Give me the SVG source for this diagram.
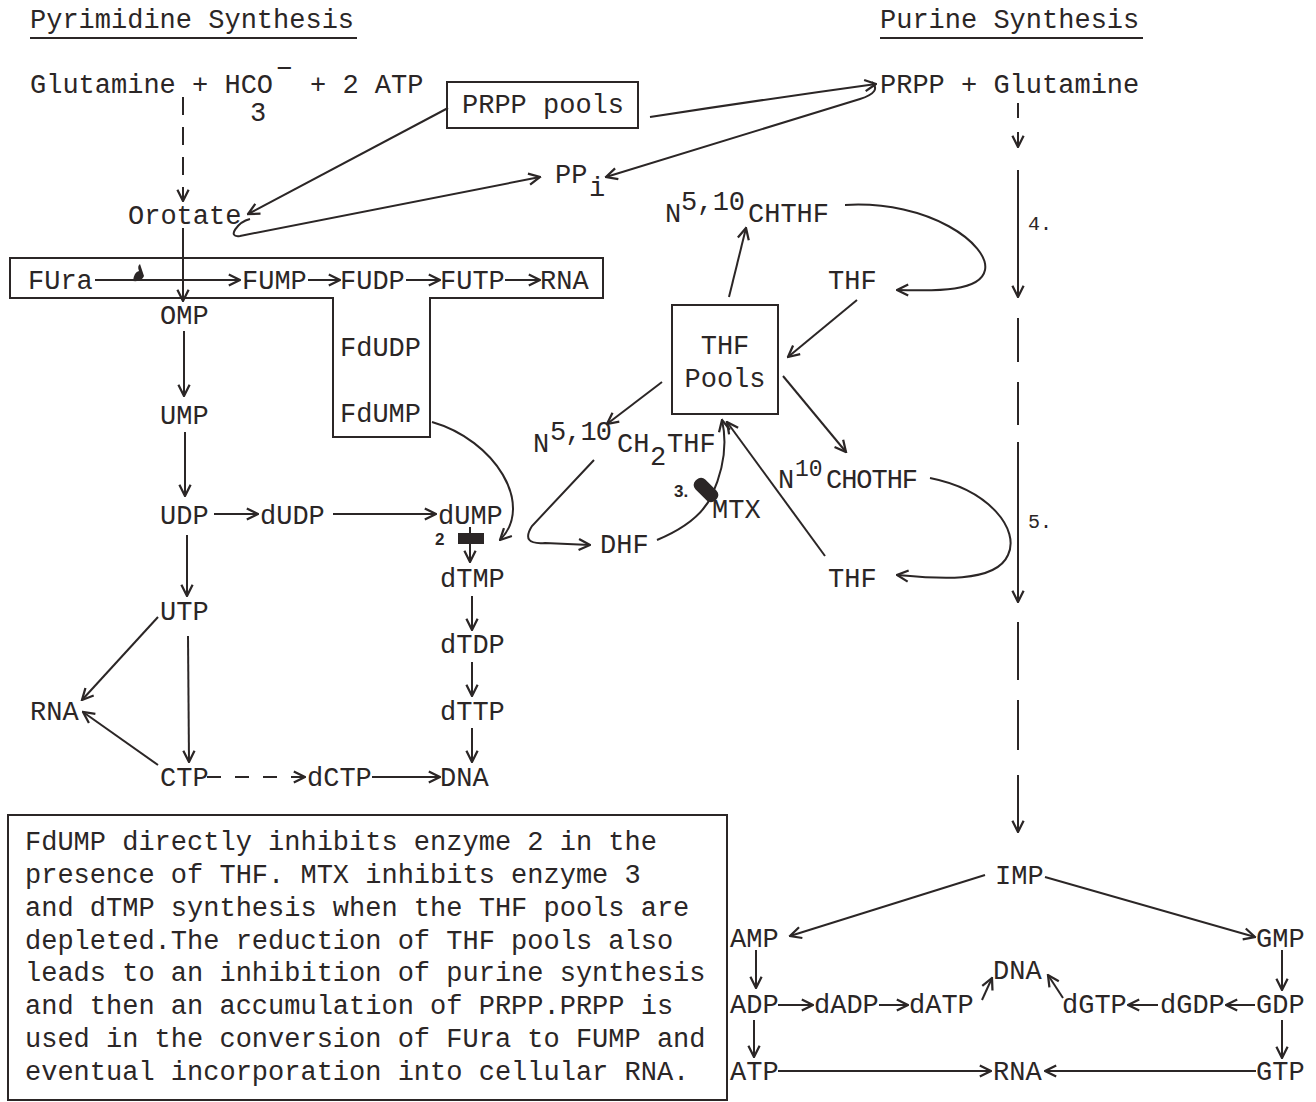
<svg xmlns="http://www.w3.org/2000/svg" width="1316" height="1102" viewBox="0 0 1316 1102">
<defs>
<style>
.t{font-family:"Liberation Mono","DejaVu Sans Mono",monospace;font-size:27px;fill:#2b2626}
.s{font-size:23px}
.h{font-family:"Liberation Sans","DejaVu Sans",sans-serif;font-size:17px;font-weight:bold;fill:#2b2626}
.l{stroke:#2b2626;stroke-width:2;fill:none}
.a{marker-end:url(#ah)}
.d{stroke-dasharray:18 12}
.bx{stroke:#2b2626;stroke-width:2;fill:none}
</style>
<marker id="ah" viewBox="0 0 10 10" refX="9" refY="5" markerWidth="14" markerHeight="14" markerUnits="userSpaceOnUse" orient="auto">
<path d="M1,1 L9,5 L1,9" fill="none" stroke="#2b2626" stroke-width="1.6"/>
</marker>
</defs>
<rect width="1316" height="1102" fill="#ffffff"/>

<g id="titles">
<text class="t" x="30" y="28">Pyrimidine Synthesis</text>
<line class="l" x1="30" y1="38" x2="357" y2="38" stroke-width="1.5"/>
<text class="t" x="880" y="28">Purine Synthesis</text>
<line class="l" x1="880" y1="38" x2="1143" y2="38" stroke-width="1.5"/>
</g>

<g id="node-glutamine">
<text class="t" x="30" y="93">Glutamine + HCO</text>
<text class="t" x="276" y="77">−</text>
<text class="t" x="250" y="121">3</text>
<text class="t" x="310" y="93">+ 2 ATP</text>
</g>
<g id="node-prpp-pools">
<rect class="bx" x="447" y="82" width="191" height="46"/>
<text class="t" x="462" y="113">PRPP pools</text>
</g>
<g id="node-prpp-glutamine"><text class="t" x="880" y="93">PRPP + Glutamine</text></g>
<g id="node-ppi"><text class="t" x="555" y="183">PP</text><text class="t" x="589" y="196">i</text></g>
<g id="node-orotate"><text class="t" x="128" y="224">Orotate</text></g>

<g id="node-fura-box">
<path class="bx" d="M10 258 H603 V298 H430 V437 H333 V298 H10 Z"/>
<text class="t" x="28" y="289">FUra</text>
<text class="t" x="242" y="289">FUMP</text>
<text class="t" x="340" y="289">FUDP</text>
<text class="t" x="440" y="289">FUTP</text>
<text class="t" x="540" y="289">RNA</text>
<text class="t" x="340" y="356">FdUDP</text>
<text class="t" x="340" y="422">FdUMP</text>
<path d="M133 281 Q134 272 139 271 Q137 266 140 264 Q142 270 144 276 Q142 282 133 281 Z" fill="#2b2626"/>
</g>

<g id="node-omp"><text class="t" x="160" y="324">OMP</text></g>
<g id="node-ump"><text class="t" x="160" y="424">UMP</text></g>
<g id="node-udp"><text class="t" x="160" y="524">UDP</text></g>
<g id="node-dudp"><text class="t" x="260" y="524">dUDP</text></g>
<g id="node-dump"><text class="t" x="438" y="524">dUMP</text></g>
<g id="node-utp"><text class="t" x="160" y="620">UTP</text></g>
<g id="node-rna1"><text class="t" x="30" y="720">RNA</text></g>
<g id="node-ctp"><text class="t" x="160" y="786">CTP</text></g>
<g id="node-dctp"><text class="t" x="307" y="786">dCTP</text></g>
<g id="node-dna1"><text class="t" x="440" y="786">DNA</text></g>
<g id="node-dtmp"><text class="t" x="440" y="587">dTMP</text></g>
<g id="node-dtdp"><text class="t" x="440" y="653">dTDP</text></g>
<g id="node-dttp"><text class="t" x="440" y="720">dTTP</text></g>
<g id="enzyme-2">
<rect x="458" y="533" width="26" height="11" fill="#2b2626"/>
<text class="h" x="435" y="545">2</text>
</g>

<g id="node-ch2thf">
<text class="t" x="533" y="452">N</text>
<text class="t" x="550" y="440" textLength="62">5,10</text>
<text class="t" x="617" y="452">CH</text>
<text class="t" x="650" y="465">2</text>
<text class="t" x="667" y="452">THF</text>
</g>
<g id="node-dhf"><text class="t" x="600" y="553">DHF</text></g>
<g id="enzyme-3">
<rect x="692" y="483" width="28" height="14" rx="6" fill="#2b2626" transform="rotate(45 706 490)"/>
<text class="h" x="674" y="497">3.</text>
</g>
<g id="node-mtx"><text class="t" x="712" y="518">MTX</text></g>
<g id="node-thf-pools">
<rect class="bx" x="672" y="305" width="106" height="109"/>
<text class="t" x="725" y="354" text-anchor="middle">THF</text>
<text class="t" x="725" y="387" text-anchor="middle">Pools</text>
</g>
<g id="node-chthf">
<text class="t" x="665" y="222">N</text>
<text class="t" x="681" y="210" textLength="64">5,10</text>
<text class="t" x="748" y="222">CHTHF</text>
</g>
<g id="node-thf1"><text class="t" x="828" y="289">THF</text></g>
<g id="node-chothf">
<text class="t" x="778" y="488">N</text>
<text class="t s" x="795" y="476">10</text>
<text class="t" x="826" y="488" textLength="92">CHOTHF</text>
</g>
<g id="node-thf2"><text class="t" x="828" y="587">THF</text></g>
<g id="labels-enzymes">
<text class="t" x="1028" y="230" style="font-size:20px">4.</text>
<text class="t" x="1028" y="528" style="font-size:20px">5.</text>
</g>

<g id="node-imp"><text class="t" x="995" y="884">IMP</text></g>
<g id="node-amp"><text class="t" x="730" y="947">AMP</text></g>
<g id="node-gmp"><text class="t" x="1256" y="947">GMP</text></g>
<g id="node-adp"><text class="t" x="730" y="1013">ADP</text></g>
<g id="node-dadp"><text class="t" x="814" y="1013">dADP</text></g>
<g id="node-datp"><text class="t" x="909" y="1013">dATP</text></g>
<g id="node-dna2"><text class="t" x="993" y="979">DNA</text></g>
<g id="node-dgtp"><text class="t" x="1062" y="1013">dGTP</text></g>
<g id="node-dgdp"><text class="t" x="1160" y="1013">dGDP</text></g>
<g id="node-gdp"><text class="t" x="1256" y="1013">GDP</text></g>
<g id="node-atp"><text class="t" x="730" y="1080">ATP</text></g>
<g id="node-rna2"><text class="t" x="993" y="1080">RNA</text></g>
<g id="node-gtp"><text class="t" x="1256" y="1080">GTP</text></g>

<g id="note">
<rect class="bx" x="8" y="815" width="719" height="285"/>
<text class="t" x="25" y="850">FdUMP directly inhibits enzyme 2 in the</text>
<text class="t" x="25" y="883">presence of THF. MTX inhibits enzyme 3</text>
<text class="t" x="25" y="916">and dTMP synthesis when the THF pools are</text>
<text class="t" x="25" y="949">depleted.The reduction of THF pools also</text>
<text class="t" x="25" y="981">leads to an inhibition of purine synthesis</text>
<text class="t" x="25" y="1014">and then an accumulation of PRPP.PRPP is</text>
<text class="t" x="25" y="1047">used in the conversion of FUra to FUMP and</text>
<text class="t" x="25" y="1080">eventual incorporation into cellular RNA.</text>
</g>

<g id="connectors">
<path class="l a" d="M650 117 Q760 100 876 84"/>
<path class="l a" d="M872 82 Q882 92 860 99 L606 177"/>
<path class="l a" d="M448 108 L248 214"/>
<path class="l a" d="M250 219 C238 222 226 238 240 236 L540 177"/>
<path class="l a d" d="M183 97 L183 201"/>
<path class="l a" d="M183 228 L183 301"/>
<path class="l a" d="M95 280 L240 280"/>
<path class="l a" d="M308 280 L340 280"/>
<path class="l a" d="M406 280 L440 280"/>
<path class="l a" d="M505 280 L540 280"/>
<path class="l a" d="M184 331 L184 396"/>
<path class="l a" d="M185 432 L185 496"/>
<path class="l a" d="M214 514 L258 514"/>
<path class="l a" d="M333 514 L436 514"/>
<path class="l a" d="M187 535 L187 596"/>
<path class="l a" d="M158 617 L82 700"/>
<path class="l a" d="M188 636 L189 762"/>
<path class="l a" d="M158 765 L83 712"/>
<path class="l a" d="M207 777 L305 777" stroke-dasharray="14 14"/>
<path class="l a" d="M372 777 L440 777"/>
<path class="l a" d="M470 527 L470 562"/>
<path class="l a" d="M472 596 L472 630"/>
<path class="l a" d="M472 662 L472 696"/>
<path class="l a" d="M472 728 L472 762"/>
<path class="l a" d="M432 422 C495 440 535 505 500 540"/>
<path class="l a" d="M662 382 L607 424"/>
<path class="l a" d="M594 460 L532 526 Q520 545 545 543 L590 545"/>
<path class="l a" d="M657 540 Q700 522 712 495 Q730 455 722 420"/>
<path class="l a" d="M729 297 L746 228"/>
<path class="l a" d="M845 205 C930 200 990 245 985 270 C980 295 920 290 897 290"/>
<path class="l a" d="M857 300 L788 357"/>
<path class="l a" d="M783 376 L846 452"/>
<path class="l a" d="M930 478 C990 490 1020 530 1008 555 C995 585 930 578 897 575"/>
<path class="l a" d="M825 556 L727 422"/>
<path class="l" d="M1018 103 L1018 118"/>
<path class="l a" d="M1018 132 L1018 147"/>
<path class="l a" d="M1018 170 L1018 297"/>
<path class="l" d="M1018 318 L1018 362 M1018 382 L1018 425"/>
<path class="l a" d="M1018 442 L1018 602"/>
<path class="l" d="M1018 622 L1018 680 M1018 700 L1018 750"/>
<path class="l a" d="M1018 775 L1018 832"/>
<path class="l a" d="M985 875 L790 936"/>
<path class="l a" d="M1045 877 L1255 937"/>
<path class="l a" d="M756 950 L756 988"/>
<path class="l a" d="M754 1020 L754 1057"/>
<path class="l a" d="M1282 950 L1282 990"/>
<path class="l a" d="M1282 1020 L1282 1058"/>
<path class="l a" d="M778 1005 L813 1005"/>
<path class="l a" d="M879 1005 L908 1005"/>
<path class="l a" d="M982 1000 L992 978"/>
<path class="l a" d="M1063 998 L1048 975"/>
<path class="l a" d="M1158 1005 L1128 1005"/>
<path class="l a" d="M1255 1005 L1226 1005"/>
<path class="l a" d="M778 1071 L991 1071"/>
<path class="l a" d="M1256 1071 L1045 1071"/>
</g>
</svg>
